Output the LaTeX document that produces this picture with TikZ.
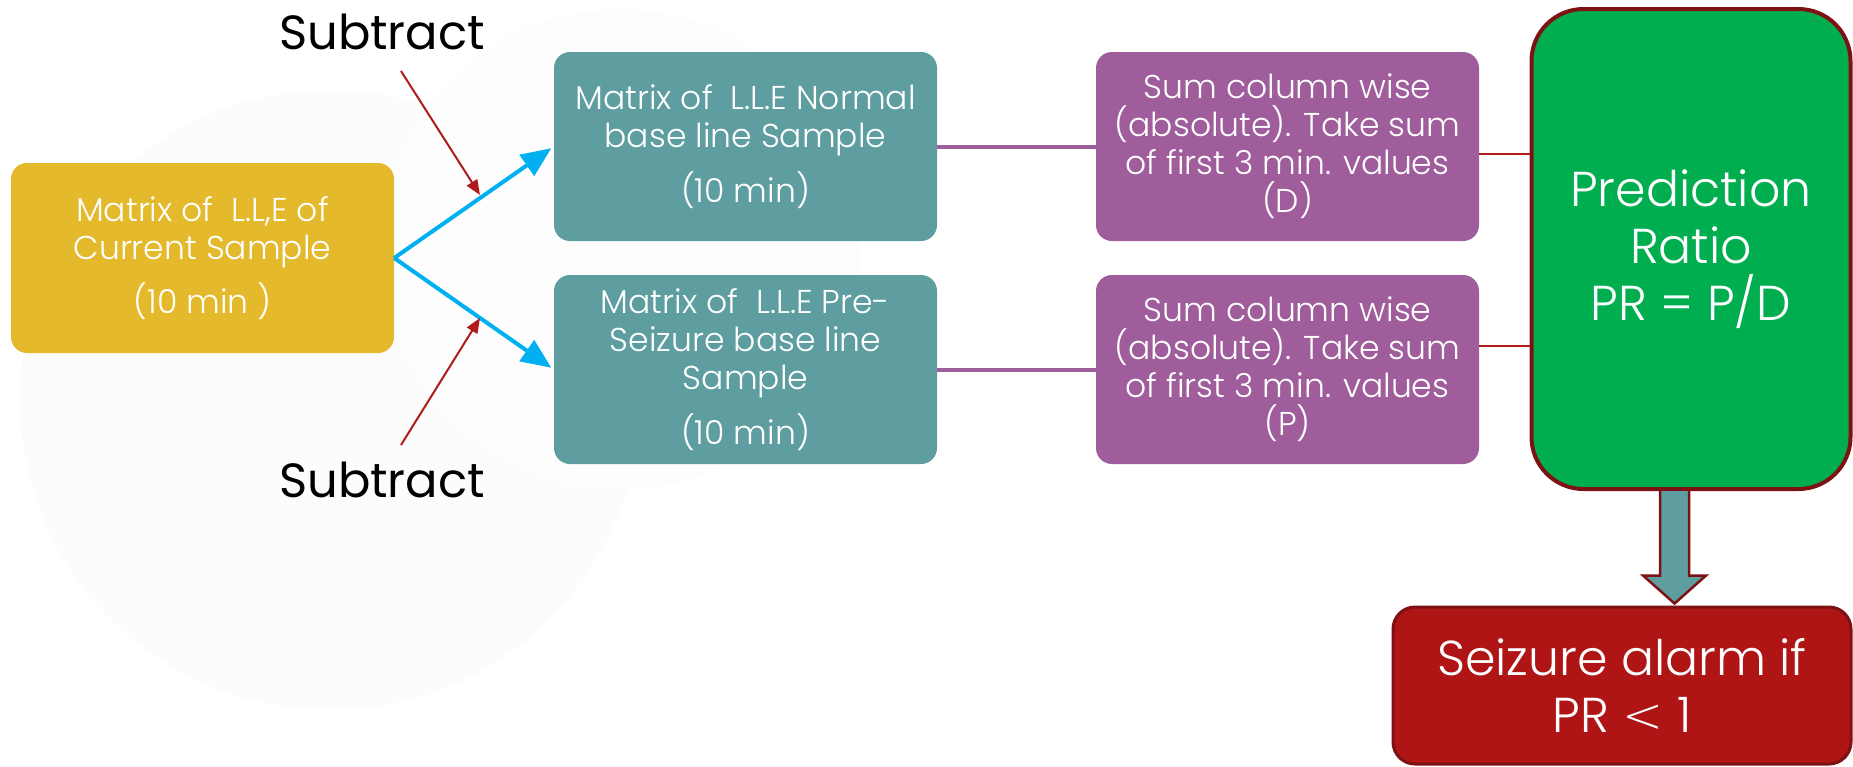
\documentclass[tikz,border=0pt]{standalone}
\usepackage{fontspec}
\setmainfont{Poppins}[UprightFont=*-Light]
\newfontfamily\labelfont{Poppins}
\newfontfamily\signfont{DejaVu Sans ExtraLight}
\usetikzlibrary{arrows.meta,calc}
\definecolor{gold}{RGB}{228,185,43}
\definecolor{tealbox}{RGB}{95,158,160}
\definecolor{plum}{RGB}{159,94,155}
\definecolor{leaf}{RGB}{0,174,80}
\definecolor{alarmred}{RGB}{175,21,21}
\definecolor{maroon}{RGB}{125,18,20}
\definecolor{sky}{RGB}{0,176,240}
\definecolor{thinred}{RGB}{176,26,26}
\tikzset{
  card/.style={rounded corners=16pt, text=white, align=center, inner sep=0pt,
    minimum width=383pt, minimum height=189pt,
    font=\fontsize{33}{38}\selectfont},
  bigcard/.style={text=white, align=center, inner sep=0pt, draw=maroon,
    font=\fontsize{49}{57}\selectfont},
  label/.style={text=black, inner sep=0pt, font=\labelfont\fontsize{48}{57}\selectfont},
  feed/.style={line width=4pt, draw=sky, -{Triangle[length=30pt,width=25pt]}, shorten >=3pt},
  pointer/.style={line width=2pt, draw=thinred, -{Triangle[length=15pt,width=12pt]}},
  link/.style={line width=4pt, draw=plum},
  tie/.style={line width=2.5pt, draw=thinred},
}
\begin{document}
\begin{tikzpicture}[x=1pt,y=-1pt]
\fill[white] (0,0) rectangle (1853,766);
\useasboundingbox (0,0) rectangle (1853,766);
% faint background discs
\fill[black!1.2] (330,400) circle (310);
\fill[black!0.8] (620,250) circle (240);

% source matrix
\node[card, fill=gold, minimum height=190pt] (cur) at (202.5,258)
  {Matrix of \ L.L,E of\\Current Sample\\[13pt](10 min )};

% baseline matrices
\node[card, fill=tealbox] (norm) at (745.5,146.5)
  {Matrix of \ L.L.E Normal\\base line Sample\\[15pt](10 min)};
\node[card, fill=tealbox] (pre) at (745.5,369.5)
  {Matrix of \ L.L.E Pre-\\Seizure base line\\Sample\\[15pt](10 min)};

% column sums
\node[card, fill=plum] (sumd) at (1287.5,146.5)
  {Sum column wise\\(absolute). Take sum\\of first 3 min. values\\(D)};
\node[card, fill=plum] (sump) at (1287.5,369.5)
  {Sum column wise\\(absolute). Take sum\\of first 3 min. values\\(P)};

% prediction ratio
\node[bigcard, fill=leaf, line width=4pt, rounded corners=52pt,
  minimum width=319pt, minimum height=480pt] (pr) at (1691,249)
  {Prediction\\Ratio\\PR = P/D};

% alarm
\node[bigcard, fill=alarmred, line width=3pt, rounded corners=22pt,
  minimum width=458pt, minimum height=157pt] (alarm) at (1622,685.5)
  {Seizure alarm if\\PR {\signfont <} 1};

% subtract labels
\node[label] (subA) at (382,32) {Subtract};
\node[label] (subB) at (382,480) {Subtract};

% connectors
\draw[feed] (cur.east) -- (norm.west);
\draw[feed] (cur.east) -- (pre.west);
\coordinate (pa0) at (401,71);
\coordinate (pa1) at (480,195);
\coordinate (pb0) at (401,445);
\coordinate (pb1) at (480,318);
\draw[pointer] (pa0) -- (pa1);
\draw[pointer] (pb0) -- (pb1);

\draw[link] (norm.east) -- (sumd.west);
\draw[link] (pre.east) -- (sump.west);
\draw[tie] (sumd.east |- 0,154) -- (pr.west |- 0,154);
\draw[tie] (sump.east |- 0,346) -- (pr.west |- 0,346);

% block arrow down to alarm
\coordinate (ax) at (1674.5,0);
\draw[fill=tealbox, draw=maroon, line width=2.5pt, line join=miter]
  ($(ax |- pr.south)+(-14.5,0)$) -- ($(ax |- alarm.north)+(-14.5,-30)$)
  -- ($(ax |- alarm.north)+(-31.5,-30)$) -- ($(ax |- alarm.north)+(0,-2)$)
  -- ($(ax |- alarm.north)+(31.5,-30)$) -- ($(ax |- alarm.north)+(14.5,-30)$)
  -- ($(ax |- pr.south)+(14.5,0)$);
\end{tikzpicture}
\end{document}
